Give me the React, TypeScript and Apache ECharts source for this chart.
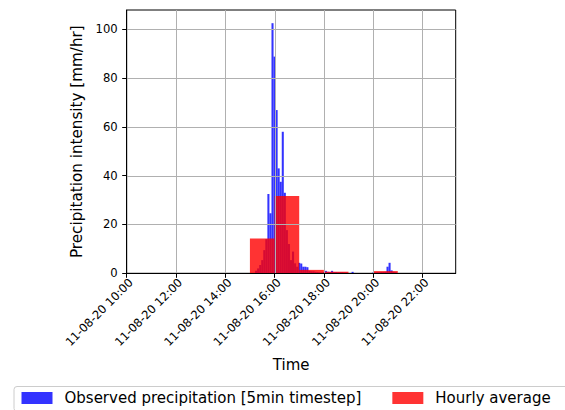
import React, { useEffect, useRef } from "react";
import * as echarts from "echarts";

// ---- data ----
const xTickHours = [10, 12, 14, 16, 18, 20, 22];
const xTickLabels = [
  "11-08-20 10:00",
  "11-08-20 12:00",
  "11-08-20 14:00",
  "11-08-20 16:00",
  "11-08-20 18:00",
  "11-08-20 20:00",
  "11-08-20 22:00",
];
const yTicks = [0, 20, 40, 60, 80, 100];

const obsTimes = [
  "15:15", "15:20", "15:25", "15:30", "15:35", "15:40", "15:45", "15:50", "15:55",
  "16:00", "16:05", "16:10", "16:15", "16:20", "16:25", "16:30", "16:35", "16:40", "16:45", "16:50", "16:55",
  "17:00", "17:05", "17:10", "17:15", "17:20", "17:25", "17:30", "17:35", "17:40", "17:45", "17:50", "17:55",
  "18:00", "18:05", "18:10", "18:15", "18:20", "18:25", "18:30", "18:35", "18:40", "18:45", "18:50", "18:55",
  "19:10",
  "20:00", "20:05", "20:10", "20:15", "20:20", "20:25", "20:30", "20:35", "20:40", "20:45", "20:50", "20:55",
];
const obsValues = [
  1.0, 2.0, 3.4, 5.4, 9.5, 14.0, 32.5, 24.6, 102.5,
  88.8, 66.9, 43.0, 37.5, 58.0, 33.0, 17.7, 12.0, 5.4, 8.9, 4.1, 2.7,
  4.3, 4.0, 2.7, 2.7, 2.5, 1.0, 0.8, 0.8, 0.6, 0.5, 0.4, 0.3,
  0.5, 1.0, 0.6, 0.5, 1.0, 0.5, 0.5, 0.4, 0.4, 0.4, 0.3, 0.3,
  0.6,
  0.3, 0.3, 0.4, 0.4, 0.5, 0.5, 0.6, 2.7, 4.3, 1.2, 0.6, 0.4,
];

const hourlyStarts = ["15:00", "16:00", "17:00", "18:00", "20:00"];
const hourlyValues = [14.3, 31.7, 1.4, 0.65, 0.9];

const OBS_NAME = "Observed precipitation [5min timestep]";
const HOUR_NAME = "Hourly average";
const BLUE = "rgba(0,0,255,0.8)";
const RED = "rgba(255,0,0,0.8)";

const toHours = (s: string) => {
  const [h, m] = s.split(":").map(Number);
  return h + m / 60;
};

export default function App() {
  const ref = useRef<HTMLDivElement>(null);
  useEffect(() => {
    if (!ref.current) return;
    const chart = echarts.init(ref.current, undefined, { renderer: "svg" });
    const font = "DejaVu Sans";
    const option: any = {
      animation: false,
      textStyle: { fontFamily: font },
      grid: {
        left: 126.7,
        right: 109.3,
        top: 10,
        bottom: 136.7,
        show: true,
        borderColor: "#000",
        borderWidth: 1,
        backgroundColor: "transparent",
      },
      xAxis: {
        type: "value",
        min: 10,
        max: 23.35,
        interval: 2,
        z: 10,
        axisLine: { show: true, onZero: false, lineStyle: { color: "#000", width: 1 } },
        axisTick: { show: true, length: 4.5, lineStyle: { color: "#000" }, customValues: xTickHours },
        axisLabel: {
          customValues: xTickHours,
          rotate: 45,
          fontSize: 11.6,
          color: "#000",
          margin: 3,
          verticalAlign: "top",
          fontFamily: font,
          formatter: (v: number) => {
            const i = xTickHours.indexOf(Math.round(v));
            return i >= 0 && Math.abs(v - Math.round(v)) < 1e-6 ? xTickLabels[i] : "";
          },
        },
        splitLine: { show: false },
        name: "Time",
        nameLocation: "middle",
        nameGap: 84,
        nameTextStyle: { fontSize: 15, color: "#000", fontFamily: font },
      },
      yAxis: {
        type: "value",
        min: 0,
        max: 107.9,
        interval: 20,
        z: 10,
        axisLine: { show: true, lineStyle: { color: "#000", width: 1 } },
        axisTick: { show: true, length: 4.5, lineStyle: { color: "#000" }, customValues: yTicks },
        axisLabel: {
          customValues: yTicks,
          fontSize: 11.6,
          color: "#000",
          margin: 9,
          fontFamily: font,
          formatter: (v: number) => (yTicks.indexOf(v) >= 0 ? String(v) : ""),
        },
        splitLine: { show: false },
        name: "Precipitation intensity [mm/hr]",
        nameLocation: "middle",
        nameGap: 30,
        nameRotate: 90,
        nameTextStyle: { fontSize: 15.2, color: "#000", fontFamily: font },
      },
      legend: {
        data: [OBS_NAME, HOUR_NAME],
        left: 14,
        top: 386.5,
        width: 620,
        padding: [4, 20, 6, 7.5],
        itemWidth: 31,
        itemHeight: 12,
        itemGap: 31,
        icon: "rect",
        backgroundColor: "#fff",
        borderColor: "#ccc",
        borderWidth: 1,
        borderRadius: 3,
        textStyle: { fontSize: 15, color: "#000", fontFamily: font, padding: [0, 0, 0, 7] },
      },
      series: [
        {
          name: OBS_NAME,
          type: "custom",
          itemStyle: { color: BLUE },
          encode: { x: 0, y: 1 },
          data: obsTimes.map((t, i) => [toHours(t), obsValues[i]]),
          renderItem: (params: any, api: any) => {
            const t = api.value(0);
            const v = api.value(1);
            const p0 = api.coord([t - 2.5 / 60, v]);
            const p1 = api.coord([t + 2.5 / 60, 0]);
            return {
              type: "rect",
              shape: { x: p0[0], y: p0[1], width: p1[0] - p0[0], height: p1[1] - p0[1] },
              style: { fill: BLUE },
            };
          },
          z: 2,
        },
        {
          name: HOUR_NAME,
          type: "custom",
          itemStyle: { color: RED },
          encode: { x: 0, y: 1 },
          data: hourlyStarts.map((t, i) => [toHours(t), hourlyValues[i]]),
          renderItem: (params: any, api: any) => {
            const t = api.value(0);
            const v = api.value(1);
            const p0 = api.coord([t, v]);
            const p1 = api.coord([t + 1, 0]);
            return {
              type: "rect",
              shape: { x: p0[0], y: p0[1], width: p1[0] - p0[0], height: p1[1] - p0[1] },
              style: { fill: RED },
            };
          },
          z: 3,
        },
        {
          name: "vgrid",
          type: "custom",
          silent: true,
          encode: { x: 0, y: 1 },
          data: xTickHours.filter((h) => h > 10).map((h) => [h, 0]),
          renderItem: (params: any, api: any) => {
            const cs = params.coordSys;
            const x = Math.round(api.coord([api.value(0), 0])[0]) + 0.5;
            return {
              type: "line",
              shape: { x1: x, y1: cs.y, x2: x, y2: cs.y + cs.height },
              style: { stroke: "#b0b0b0", lineWidth: 1 },
            };
          },
          z: 5,
        },
        {
          name: "hgrid",
          type: "custom",
          silent: true,
          encode: { x: 0, y: 1 },
          data: yTicks.filter((v) => v > 0).map((v) => [10, v]),
          renderItem: (params: any, api: any) => {
            const cs = params.coordSys;
            const y = Math.round(api.coord([10, api.value(1)])[1]) + 0.5;
            return {
              type: "line",
              shape: { x1: cs.x, y1: y, x2: cs.x + cs.width, y2: y },
              style: { stroke: "#b0b0b0", lineWidth: 1 },
            };
          },
          z: 5,
        },
      ],
    };
    chart.setOption(option);
    return () => chart.dispose();
  }, []);
  return (
    <div
      ref={ref}
      style={{ position: "fixed", left: 0, top: 0, width: 565, height: 410, background: "#fff" }}
    />
  );
}
